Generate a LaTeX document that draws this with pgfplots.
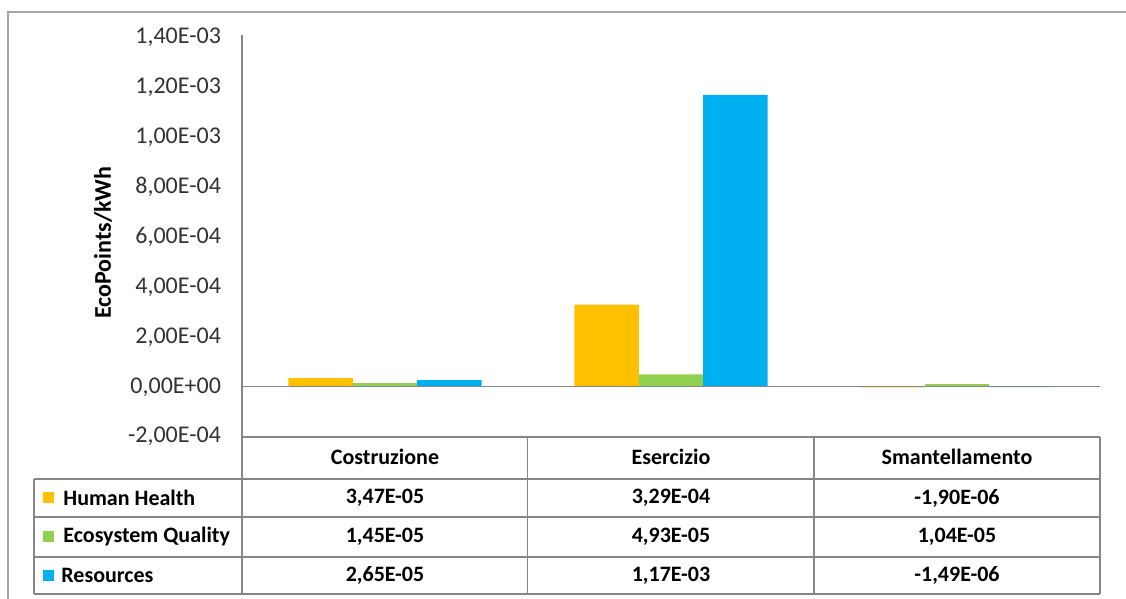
\documentclass[border=0pt]{standalone}
\usepackage{pgfplots}
\pgfplotsset{compat=1.18}
\usepackage{fontspec}
\setmainfont{Carlito}

\definecolor{hh}{RGB}{255,192,0}
\definecolor{eq}{RGB}{146,208,80}
\definecolor{res}{RGB}{0,176,240}
\definecolor{lin}{RGB}{134,134,134}
\definecolor{frm}{RGB}{165,165,165}
\definecolor{txt}{RGB}{50,50,50}

\pgfplotstableread{
x  hh        eq        res
0  3.47e-5   1.45e-5   2.65e-5
1  3.29e-4   4.93e-5   1.17e-3
2  -1.90e-6  1.04e-5   -1.49e-6
}\impatti

\begin{document}
\begin{tikzpicture}
\path[use as bounding box] (0pt,0pt) rectangle (563pt,-299.5pt);
% cornice del grafico
\draw[frm, line width=0.8pt] (4pt,-299.5pt) -- (4pt,-6pt) -- (563pt,-6pt);

\begin{axis}[
    at={(121pt,-218.35pt)}, anchor=south west,
    scale only axis, width=429pt, height=200.85pt,
    xmin=-0.5, xmax=2.5,
    ymin=-0.0002, ymax=0.00141,
    axis lines*=left,
    axis line style={draw=lin, line width=0.6pt, -},
    xtick=\empty,
    scaled y ticks=false,
    ytick={-0.0002,0,0.0002,0.0004,0.0006,0.0008,0.001,0.0012,0.0014},
    yticklabels={{-2,00E-04},{0,00E+00},{2,00E-04},{4,00E-04},{6,00E-04},
                 {8,00E-04},{1,00E-03},{1,20E-03},{1,40E-03}},
    major tick length=0pt,
    yticklabel style={font=\fontsize{12}{14}\selectfont, text=txt, xshift=-7pt},
    ylabel={EcoPoints/kWh},
    ylabel style={at={(axis description cs:-0.162,0.483)}, anchor=center,
                  font=\bfseries\fontsize{12}{14}\selectfont},
    ybar=0pt, bar width=0.2255,
    clip=false,
  ]
  \addplot[fill=hh, draw=none, bar shift=-0.2255] table[x=x, y=hh] {\impatti};
  \addplot[fill=eq, draw=none, bar shift=0] table[x=x, y=eq] {\impatti};
  \addplot[fill=res, draw=none, bar shift=0.2255] table[x=x, y=res] {\impatti};
  \draw[lin, line width=0.6pt] (axis cs:-0.5,0) -- (axis cs:2.5,0);
\end{axis}

% tabella dati
\begin{scope}[x=0.5pt, y=-0.5pt, font=\bfseries\fontsize{11}{13}\selectfont]
  \draw[lin, line width=0.6pt] (242,437) -- (1100,437);
  \foreach \yy in {479,517,557,594}
    \draw[lin, line width=0.6pt] (34,\yy) -- (1100,\yy);
  \draw[lin, line width=0.6pt] (34,479) -- (34,594);
  \foreach \xx in {242,527.5,814,1100}
    \draw[lin, line width=0.6pt] (\xx,437) -- (\xx,594);
  \node at (385,457) {Costruzione};
  \node at (671,457) {Esercizio};
  \node at (957,457) {Smantellamento};
  \fill[hh]  (43,492) rectangle (54,503);
  \fill[eq]  (43,531) rectangle (54,542);
  \fill[res] (43,570) rectangle (54,581);
  \node[anchor=west, inner sep=0pt] at (63,498) {Human Health};
  \node[anchor=west, inner sep=0pt] at (63,537) {Ecosystem Quality};
  \node[anchor=west, inner sep=0pt] at (61,575.5) {Resources};
  \node at (385,498) {3,47E-05};
  \node at (671,498) {3,29E-04};
  \node at (957,498) {-1,90E-06};
  \node at (385,537) {1,45E-05};
  \node at (671,537) {4,93E-05};
  \node at (957,537) {1,04E-05};
  \node at (385,575.5) {2,65E-05};
  \node at (671,575.5) {1,17E-03};
  \node at (957,575.5) {-1,49E-06};
\end{scope}
\end{tikzpicture}
\end{document}
